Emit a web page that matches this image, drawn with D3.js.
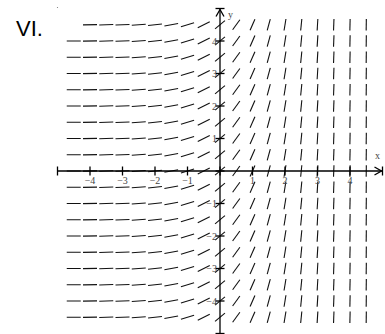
<!DOCTYPE html>
<html>
<head>
<meta charset="utf-8">
<script src="https://d3js.org/d3.v7.min.js"></script>
<style>
  body { margin: 0; background: #fff; }
</style>
</head>
<body>
<div id="slopeField"></div>
<script>
// grid of the slope field (data units)
var xs = [-4.5, -4, -3.5, -3, -2.5, -2, -1.5, -1, -0.5, 0, 0.5, 1, 1.5, 2, 2.5, 3, 3.5, 4, 4.5];
var ys = [4.5, 4, 3.5, 3, 2.5, 2, 1.5, 1, 0.5, 0, -0.5, -1, -1.5, -2, -2.5, -3, -3.5, -4, -4.5];
// segment that is not drawn in the picture
var missing = [[-4.5, 4.5]];
// tick labels
var xTicks = [-4, -3, -2, -1, 1, 2, 3, 4];
var yTicks = [4, 3, 2, 1, -1, -2, -3, -4];
var allTicks = [-5, -4, -3, -2, -1, 0, 1, 2, 3, 4, 5];
var title = 'VI.';

// slope dy/dx = e^x
function slope(x, y) { return Math.exp(x); }

var width = 385, height = 334;

var svg = d3.select('#slopeField')
  .append('svg')
    .attr('width', width)
    .attr('height', height);

var x = d3.scaleLinear().domain([-5, 5]).range([57.5, 382.5]);
var y = d3.scaleLinear().domain([-5, 5]).range([333.5, 8.5]);

// build the segments
var segs = [];
ys.forEach(function(yy) {
  xs.forEach(function(xx) {
    var skip = missing.some(function(m) { return m[0] === xx && m[1] === yy; });
    if (!skip) segs.push({x: xx, y: yy, m: slope(xx, yy)});
  });
});

svg.selectAll('line.seg')
  .data(segs)
  .enter()
  .append('line')
    .attr('class', 'seg')
    .attr('x1', function(d) { var a = Math.atan(d.m); return x(d.x) - 7 * Math.cos(a); })
    .attr('x2', function(d) { var a = Math.atan(d.m); return x(d.x) + 7 * Math.cos(a); })
    .attr('y1', function(d) { var a = Math.atan(d.m); return y(d.y) + 5.8 * Math.sin(a); })
    .attr('y2', function(d) { var a = Math.atan(d.m); return y(d.y) - 5.8 * Math.sin(a); })
    .attr('stroke', '#111')
    .attr('stroke-width', 1.1);

// axes
var axes = svg.append('g').attr('stroke', '#000').attr('stroke-width', 1.3);
axes.append('line')
  .attr('x1', x(-5)).attr('x2', x(5))
  .attr('y1', y(0)).attr('y2', y(0));
axes.append('line')
  .attr('x1', x(0)).attr('x2', x(0))
  .attr('y1', y(-5)).attr('y2', y(5));

// tick marks
axes.selectAll('line.xt')
  .data(allTicks)
  .enter()
  .append('line')
    .attr('x1', function(d) { return x(d); })
    .attr('x2', function(d) { return x(d); })
    .attr('y1', y(0) - 4.5)
    .attr('y2', y(0) + 4.5);
axes.selectAll('line.yt')
  .data(allTicks)
  .enter()
  .append('line')
    .attr('y1', function(d) { return y(d); })
    .attr('y2', function(d) { return y(d); })
    .attr('x1', x(0) - 4.5)
    .attr('x2', x(0) + 4.5);

// arrow heads
axes.append('path')
  .attr('fill', 'none')
  .attr('d', 'M' + (x(5) - 8) + ',' + (y(0) - 4) + 'L' + (x(5) - 1) + ',' + y(0) + 'L' + (x(5) - 8) + ',' + (y(0) + 4));
axes.append('path')
  .attr('fill', 'none')
  .attr('d', 'M' + (x(0) - 4) + ',' + (y(5) + 8) + 'L' + x(0) + ',' + (y(5) + 1) + 'L' + (x(0) + 4) + ',' + (y(5) + 8));

// tick labels
svg.selectAll('text.xl')
  .data(xTicks)
  .enter()
  .append('text')
    .attr('x', function(d) { return x(d); })
    .attr('y', y(0) + 13)
    .attr('text-anchor', 'middle')
    .attr('font-family', 'Liberation Serif, serif')
    .attr('font-size', '10px')
    .attr('fill', '#444')
    .text(function(d) { return d < 0 ? '\u2212' + (-d) : d; });

svg.selectAll('text.yl')
  .data(yTicks)
  .enter()
  .append('text')
    .attr('x', x(0) - 3)
    .attr('y', function(d) { return y(d) + 3.5; })
    .attr('text-anchor', 'end')
    .attr('font-family', 'Liberation Serif, serif')
    .attr('font-size', '10px')
    .attr('fill', '#444')
    .text(function(d) { return d < 0 ? '\u2212' + (-d) : d; });

// axis names
svg.append('text')
  .attr('x', x(0) + 8).attr('y', 18)
  .attr('font-family', 'Liberation Serif, serif')
  .attr('font-size', '10px').attr('fill', '#444')
  .text('y');
svg.append('text')
  .attr('x', 375).attr('y', y(0) - 12)
  .attr('font-family', 'Liberation Serif, serif')
  .attr('font-size', '10px').attr('fill', '#444')
  .text('x');

// small corner dot
svg.append('circle')
  .attr('cx', x(-5)).attr('cy', y(5) - 1).attr('r', 0.6).attr('fill', '#777');

// title
svg.append('text')
  .attr('x', 16).attr('y', 36)
  .attr('font-family', 'Liberation Sans, Arial, sans-serif')
  .attr('font-size', '22px')
  .attr('fill', '#000')
  .text(title);
</script>
</body>
</html>
